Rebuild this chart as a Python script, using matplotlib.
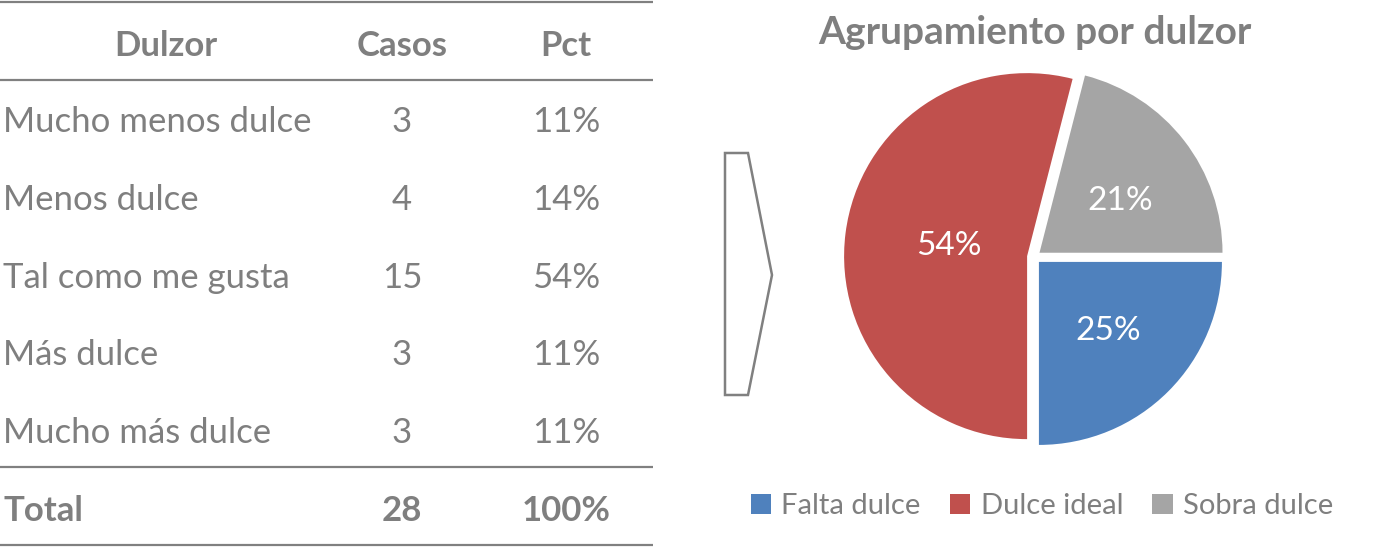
import numpy as np
import matplotlib
matplotlib.use("Agg")
import matplotlib.pyplot as plt
from matplotlib.patches import Polygon, Patch

# ---- data ----
header = ["Dulzor", "Casos", "Pct"]
categories = ["Mucho menos dulce", "Menos dulce", "Tal como me gusta", "Más dulce", "Mucho más dulce"]
casos = [3, 4, 15, 3, 3]
pct_labels = ["11%", "14%", "54%", "11%", "11%"]
total_label = ["Total", "28", "100%"]

pie_title = "Agrupamiento por dulzor"
pie_groups = ["Falta dulce", "Dulce ideal", "Sobra dulce"]
pie_values = [25, 54, 21]
pie_colors = ["#4F81BD", "#C0504D", "#A5A5A5"]

TXT = "#7F7F7F"
FONT = ["Lato", "DejaVu Sans"]
plt.rcParams['font.family'] = FONT

W, H = 1386, 553
fig = plt.figure(figsize=(W / 100, H / 100), dpi=100)
fig.patch.set_facecolor("white")

ax = fig.add_axes([0, 0, 1, 1])
ax.set_xlim(0, W)
ax.set_ylim(H, 0)
ax.axis("off")

# table rules
for y in [2, 80, 467, 545]:
    ax.plot([0, 653], [y, y], color="#808080", lw=1.6, solid_capstyle="butt")

col_x = [166, 402, 566]
fs = 25
for x, h in zip(col_x, header):
    ax.text(x, 56, h, ha="center", va="baseline", fontsize=fs, fontweight="bold", color=TXT)

row_base = [132, 210, 288, 365, 443]
for yb, cat, c, p in zip(row_base, categories, casos, pct_labels):
    ax.text(3, yb, cat, ha="left", va="baseline", fontsize=fs, color=TXT)
    ax.text(col_x[1], yb, str(c), ha="center", va="baseline", fontsize=fs, color=TXT)
    ax.text(col_x[2], yb, p, ha="center", va="baseline", fontsize=fs, color=TXT)

ax.text(3, 521, total_label[0], ha="left", va="baseline", fontsize=fs, fontweight="bold", color=TXT)
ax.text(col_x[1], 521, total_label[1], ha="center", va="baseline", fontsize=fs, fontweight="bold", color=TXT)
ax.text(col_x[2], 521, total_label[2], ha="center", va="baseline", fontsize=fs, fontweight="bold", color=TXT)

# chevron arrow
arrow = Polygon([(725, 153), (748, 153), (772, 275), (748, 395), (725, 395)],
                closed=True, facecolor="white", edgecolor="#808080", lw=1.8)
ax.add_patch(arrow)

# title
ax.text(1035, 44, pie_title, ha="center", va="baseline", fontsize=28, fontweight="bold", color=TXT)

# pie
cx, cy, r = 1034, 257, 183
half = 1.15
aw = 2 * half * r
pax = fig.add_axes([(cx - aw / 2) / W, (H - cy - aw / 2) / H, aw / W, aw / H])
wedges, texts, autotexts = pax.pie(
    pie_values, colors=pie_colors, startangle=0, counterclock=False,
    explode=[0.038] * 3, autopct=lambda v: f"{v:.0f}%", pctdistance=0.52,
    wedgeprops=dict(edgecolor="white", linewidth=0), radius=1.0,
    textprops=dict(color="white", fontsize=24))
label_dist = [0.57, 0.47, 0.56]
label_rot = [0, 0, -5]
for w, t, d, dr in zip(wedges, autotexts, label_dist, label_rot):
    ang = np.deg2rad((w.theta1 + w.theta2) / 2 + dr)
    t.set_position((d * np.cos(ang), d * np.sin(ang)))
pax.set_xlim(-half, half)
pax.set_ylim(-half, half)
pax.set_aspect("equal")
pax.axis("off")

handles = [Patch(facecolor=c, edgecolor="none") for c in pie_colors]
leg = fig.legend(handles, pie_groups, loc="center", bbox_to_anchor=(1042 / W, 1 - 506 / H),
                 ncol=3, frameon=False, fontsize=21, handlelength=0.7, handleheight=0.7,
                 handletextpad=0.35, columnspacing=1.0, labelcolor=TXT)

fig.savefig("out.png", dpi=100, facecolor="white")
